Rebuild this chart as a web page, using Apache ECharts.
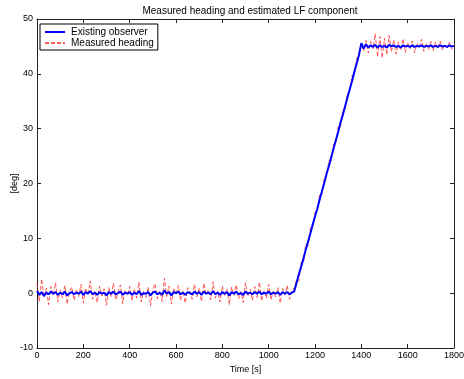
<!DOCTYPE html>
<html>
<head>
<meta charset="utf-8">
<script src="https://cdn.jsdelivr.net/npm/echarts@6/dist/echarts.min.js"></script>
<style>
  html, body { margin: 0; padding: 0; background: #fff; }
  #chart { width: 464px; height: 379px; }
</style>
</head>
<body>
<div id="chart"></div>
<script>
// sample spacing of the series below, seconds
const dt = 10

// measured heading [deg], one value per 10 s from 0 to 1800
const measured = [
  1.8, -1.5, 2.6, -0.8, 0.9, -2.1, 1.2, -0.4, 1.9, -1.6,
  0.5, -0.9, 1.4, -2.0, 0.3, 1.1, -1.3, 0.7, -0.6, 1.6,
  -1.8, 0.9, -0.3, 2.2, -1.1, 0.4, -1.7, 1.3, -0.5, 0.8,
  -2.2, 1.0, -0.7, 1.8, -1.2, 0.2, 1.5, -1.9, 0.6, -0.4,
  1.2, -1.4, 0.8, -0.9, 2.0, -1.6, 0.3, -0.8, 1.1, -2.3,
  0.7, 1.7, -1.0, 0.4, -1.5, 2.7, -0.6, 1.3, -2.0, 0.9,
  -0.2, 1.4, -1.3, 0.5, -1.8, 1.0, 0.2, -1.1, 1.6, -0.7,
  0.9, -1.5, 1.8, -0.3, 0.6, -1.2, 2.1, -0.9, 0.4, -1.6,
  1.3, -0.5, 0.8, -2.1, 1.1, -0.4, 1.5, -1.0, 0.3, -1.7,
  1.9, -0.6, 0.7, -1.3, 1.2, -0.8, 2.0, -1.4, 0.5, -0.9,
  1.6, -1.2, 0.4, -0.7, 1.0, -1.8, 0.9, -0.3, 1.4, -1.1,
  0.6,
  0.9, 2.4, 2.2, 5.6, 5.4, 8.9, 8.6, 11.9, 12.0, 14.8,
  14.9, 18.0, 18.1, 21.0, 21.2, 24.3, 24.1, 27.2, 27.3, 30.4,
  30.3, 33.5, 33.6, 36.5, 36.8, 39.7, 39.9, 42.8, 43.2,
  45.6,
  44.2, 46.1, 43.8, 45.9, 44.6, 47.3, 43.1, 46.8, 42.9, 46.5,
  43.5, 47.0, 44.0, 46.2, 43.6, 45.8, 44.3, 46.4, 43.9, 45.7,
  44.5, 46.0, 43.8, 45.5, 44.7, 46.3, 44.1, 45.6, 44.4, 45.9,
  44.2, 45.8, 44.6, 46.0, 44.3, 45.4, 44.8, 45.7, 44.5, 45.2
]

// existing observer estimate [deg], same sampling
const observer = [
  0.4, -0.3, 0.2, -0.5, 0.1, -0.2, 0.3, -0.1, 0.2, -0.3,
  0.1, -0.2, 0.3, -0.4, 0.0, 0.2, -0.2, 0.1, -0.1, 0.3,
  -0.3, 0.2, -0.1, 0.4, -0.2, 0.1, -0.3, 0.2, -0.1, 0.1,
  -0.4, 0.2, -0.1, 0.3, -0.2, 0.0, 0.3, -0.3, 0.1, -0.1,
  0.2, -0.3, 0.1, -0.2, 0.4, -0.3, 0.0, -0.1, 0.2, -0.4,
  0.1, 0.3, -0.2, 0.1, -0.3, 0.5, -0.1, 0.2, -0.4, 0.2,
  0.0, 0.3, -0.2, 0.1, -0.3, 0.2, 0.0, -0.2, 0.3, -0.1,
  0.2, -0.3, 0.3, -0.1, 0.1, -0.2, 0.4, -0.2, 0.1, -0.3,
  0.2, -0.1, 0.2, -0.4, 0.2, -0.1, 0.3, -0.2, 0.0, -0.3,
  0.3, -0.1, 0.1, -0.2, 0.2, -0.1, 0.3, -0.2, 0.1, -0.1,
  0.3, -0.2, 0.1, -0.1, 0.2, -0.3, 0.2, -0.1, 0.2, -0.2,
  0.1,
  0.3, 1.8, 3.4, 4.8, 6.3, 7.9, 9.4, 10.9, 12.5, 14.0,
  15.4, 17.1, 18.6, 20.1, 21.8, 23.2, 24.8, 26.4, 27.9, 29.4,
  31.1, 32.5, 34.1, 35.7, 37.2, 38.7, 40.4, 41.9, 43.5,
  45.6,
  44.6, 45.4, 44.8, 45.2, 44.9, 45.3, 44.8, 45.2, 44.9, 45.1,
  44.8, 45.3, 45.0, 45.2, 44.9, 45.1, 44.8, 45.2, 45.0, 45.1,
  44.9, 45.2, 44.9, 45.1, 45.0, 45.2, 44.9, 45.1, 45.0, 45.2,
  44.9, 45.1, 44.9, 45.2, 45.0, 45.1, 44.9, 45.2, 45.0, 45.1
]

const seriesNames = ['Existing observer', 'Measured heading']

const font = 'Liberation Sans, Arial, Helvetica, sans-serif'
const axisColor = '#222'

const toPairs = arr => arr.map((v, i) => [i * dt, v])

const chart = echarts.init(document.getElementById('chart'), null, { renderer: 'canvas' })

const tickStyle = { show: true, inside: true, length: 4, lineStyle: { color: axisColor } }
const lineStyle = { show: true, onZero: false, lineStyle: { color: axisColor } }
const plain = v => String(v)

const option = {
  animation: false,
  backgroundColor: '#fff',
  title: {
    text: 'Measured heading and estimated LF component',
    left: 245,
    textAlign: 'center',
    top: 1,
    textStyle: { fontFamily: font, fontSize: 10, fontWeight: 'normal', color: '#000' }
  },
  legend: {
    data: seriesNames,
    orient: 'vertical',
    left: 40,
    top: 24,
    padding: [3, 4, 2, 4],
    itemGap: 1,
    itemWidth: 20,
    itemHeight: 10,
    itemStyle: { opacity: 0 },
    backgroundColor: '#fff',
    borderColor: '#000',
    borderWidth: 1,
    borderRadius: 0,
    textStyle: { fontFamily: font, fontSize: 10, color: '#000', padding: [0, 0, 0, 1] }
  },
  grid: { left: 37, right: 10, top: 19, bottom: 31, containLabel: false, outerBoundsMode: 'none' },
  xAxis: [
    {
      type: 'value',
      min: 0,
      max: 1800,
      interval: 200,
      name: 'Time [s]',
      nameLocation: 'middle',
      nameGap: 17,
      nameMoveOverlap: false,
      nameTextStyle: { fontFamily: font, fontSize: 9, color: '#000' },
      axisLine: lineStyle,
      axisTick: tickStyle,
      axisLabel: { fontFamily: font, fontSize: 9, color: '#000', margin: 3, formatter: plain },
      splitLine: { show: false }
    },
    {
      type: 'value',
      position: 'top',
      min: 0,
      max: 1800,
      interval: 200,
      axisLine: lineStyle,
      axisTick: tickStyle,
      axisLabel: { show: false },
      splitLine: { show: false }
    }
  ],
  yAxis: [
    {
      type: 'value',
      min: -10,
      max: 50,
      interval: 10,
      name: '[deg]',
      nameLocation: 'middle',
      nameGap: 18,
      nameRotate: 90,
      nameMoveOverlap: false,
      nameTextStyle: { fontFamily: font, fontSize: 9, color: '#000' },
      axisLine: lineStyle,
      axisTick: tickStyle,
      axisLabel: { fontFamily: font, fontSize: 9, color: '#000', margin: 4, formatter: plain },
      splitLine: { show: false }
    },
    {
      type: 'value',
      position: 'right',
      min: -10,
      max: 50,
      interval: 10,
      axisLine: lineStyle,
      axisTick: tickStyle,
      axisLabel: { show: false },
      splitLine: { show: false }
    }
  ],
  series: [
    {
      name: seriesNames[1],
      type: 'line',
      data: toPairs(measured),
      showSymbol: false,
      symbol: 'none',
      z: 2,
      lineStyle: { color: '#ff3030', width: 1, type: [4, 2], opacity: 0.8 },
      itemStyle: { color: '#ff3030' }
    },
    {
      name: seriesNames[0],
      type: 'line',
      data: toPairs(observer),
      showSymbol: false,
      symbol: 'none',
      z: 3,
      lineStyle: { color: '#0000ff', width: 2 },
      itemStyle: { color: '#0000ff' }
    }
  ]
}

chart.setOption(option)
</script>
</body>
</html>
